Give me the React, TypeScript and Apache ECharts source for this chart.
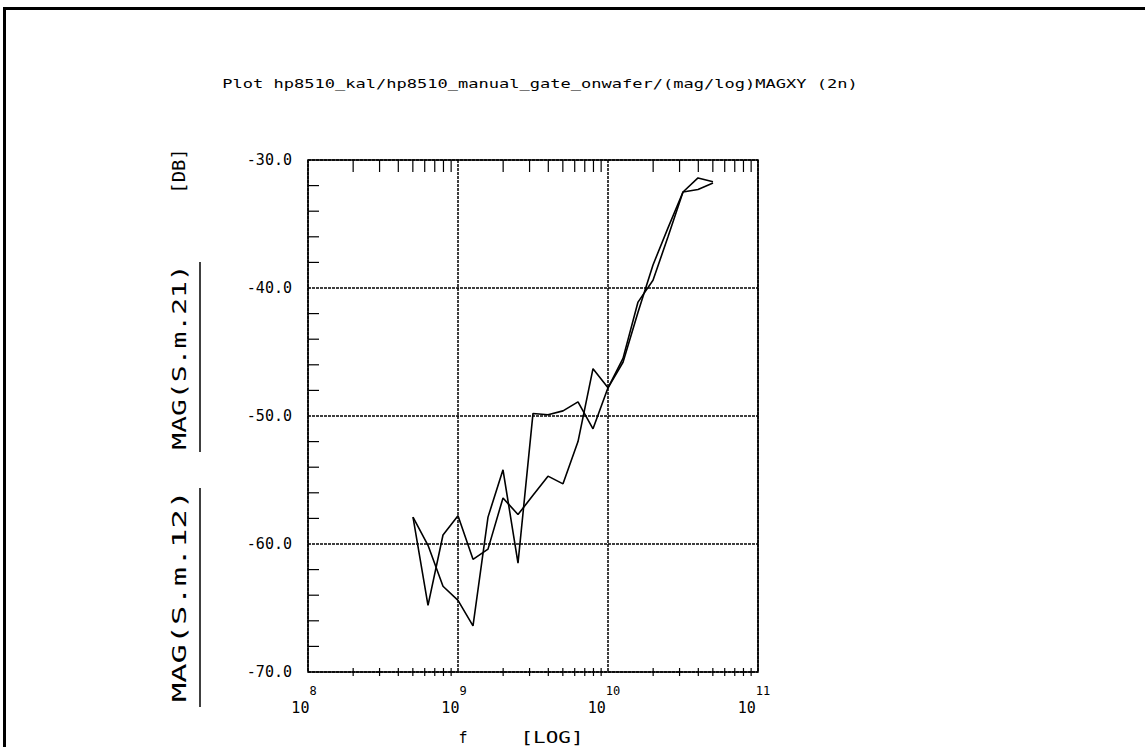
import React, { useEffect, useRef } from "react";
import * as echarts from "echarts";

// log10 of the swept frequencies (Hz)
const freqExp = [8.7, 8.8, 8.9, 9.0, 9.1, 9.2, 9.3, 9.4, 9.5, 9.6, 9.7, 9.8, 9.9, 10.0, 10.1, 10.2, 10.3, 10.4, 10.5, 10.6, 10.7];
const magS21 = [-57.9, -64.8, -59.3, -57.8, -61.2, -60.4, -56.4, -57.7, -56.2, -54.7, -55.3, -52.0, -46.3, -47.8, -45.5, -41.1, -39.4, -36.0, -32.5, -32.3, -31.8];
const magS12 = [-57.9, -60.1, -63.3, -64.4, -66.4, -57.9, -54.2, -61.5, -49.8, -49.9, -49.6, -48.9, -51.0, -47.8, -45.8, -41.9, -38.2, -35.3, -32.5, -31.4, -31.7];

const yMin = -70;
const yMax = -30;
const yStep = 10;
const yMinorStep = 2;
const decades = [8, 9, 10];
const minorMultipliers = [2, 3, 4, 5, 6, 7, 8, 9];

const titleText = "Plot hp8510_kal/hp8510_manual_gate_onwafer/(mag/log)MAGXY (2n)";
const FONT = "'DejaVu Sans Mono', monospace";

export default function App() {
  const ref = useRef<HTMLDivElement>(null);
  useEffect(() => {
    if (!ref.current) return;
    const chart = echarts.init(ref.current, null, { renderer: "svg" });

    const minorFreqs: number[] = [];
    decades.forEach((d) => minorMultipliers.forEach((m) => minorFreqs.push(m * Math.pow(10, d))));
    const leftMinor: number[] = [];
    for (let v = yMin + yMinorStep; v < yMax; v += yMinorStep) {
      if (v % yStep !== 0) leftMinor.push(v);
    }

    const toPts = (arr: number[]) => freqExp.map((e, i) => [Math.pow(10, e), arr[i]]);

    const tickSeries = (data: number[][], kind: "top" | "bottom" | "left") => ({
      type: "custom",
      silent: true,
      clip: false,
      z: 5,
      data,
      encode: { x: 0, y: 1 },
      renderItem: (params: any, api: any) => {
        const p = api.coord([api.value(0), api.value(1)]);
        let shape;
        if (kind === "top") shape = { x1: p[0], y1: p[1], x2: p[0], y2: p[1] + 12 };
        else if (kind === "bottom") shape = { x1: p[0], y1: p[1] - 4, x2: p[0], y2: p[1] + 4 };
        else shape = { x1: p[0], y1: p[1], x2: p[0] + 11, y2: p[1] };
        return { type: "line", shape, style: { stroke: "#000", lineWidth: 1.2 } };
      },
    });

    const lineStyle = { color: "#000", width: 1.6 };
    const gridLine = { color: "#000", width: 1.5, type: [3, 1] };

    chart.setOption({
      animation: false,
      backgroundColor: "#fff",
      grid: { left: 308, top: 160, width: 450, height: 512, show: true, borderColor: "#000", borderWidth: 1.6, backgroundColor: "transparent" },
      xAxis: {
        type: "log",
        logBase: 10,
        min: 1e8,
        max: 1e11,
        axisLine: { show: false },
        axisTick: { show: false },
        splitLine: { show: true, lineStyle: gridLine },
        axisLabel: {
          margin: 13,
          formatter: (v: number) => `{a|10}{b|${Math.round(Math.log10(v))}}`,
          rich: {
            a: { fontFamily: FONT, fontSize: 15, color: "#000", verticalAlign: "bottom" },
            b: { fontFamily: FONT, fontSize: 12, color: "#000", verticalAlign: "bottom", padding: [0, 8, 18, 0] },
          },
        },
      },
      yAxis: {
        type: "value",
        min: yMin,
        max: yMax,
        interval: yStep,
        axisLine: { show: false },
        axisTick: { show: false },
        splitLine: { show: true, lineStyle: gridLine },
        axisLabel: {
          margin: 16,
          fontFamily: FONT,
          fontSize: 15,
          color: "#000",
          formatter: (v: number) => v.toFixed(1),
        },
      },
      series: [
        { name: "MAG(S.m.21)", type: "line", data: toPts(magS21), showSymbol: false, symbol: "none", lineStyle, z: 10 },
        { name: "MAG(S.m.12)", type: "line", data: toPts(magS12), showSymbol: false, symbol: "none", lineStyle, z: 10 },
        tickSeries(minorFreqs.map((f) => [f, yMax]), "top"),
        tickSeries(minorFreqs.map((f) => [f, yMin]), "bottom"),
        tickSeries(leftMinor.map((v) => [1e8, v]), "left"),
      ],
      graphic: [
        { type: "rect", shape: { x: 3, y: 7, width: 1142, height: 3 }, style: { fill: "#000" } },
        { type: "rect", shape: { x: 3, y: 7, width: 3, height: 740 }, style: { fill: "#000" } },
        {
          type: "text", x: 540, y: 84, scaleX: 1.42,
          style: { text: titleText, font: `12px ${FONT}`, fill: "#000", align: "center", verticalAlign: "middle" },
        },
        {
          type: "text", x: 179, y: 171, rotation: Math.PI / 2, scaleX: 1.05,
          style: { text: "[DB]", font: `18px ${FONT}`, fill: "#000", align: "center", verticalAlign: "middle" },
        },
        {
          type: "text", x: 179, y: 357, rotation: Math.PI / 2, scaleX: 1.4,
          style: { text: "MAG(S.m.21)", font: `20px ${FONT}`, fill: "#000", align: "center", verticalAlign: "middle" },
        },
        {
          type: "text", x: 179, y: 596, rotation: Math.PI / 2, scaleX: 1.6,
          style: { text: "MAG(S.m.12)", font: `20px ${FONT}`, fill: "#000", align: "center", verticalAlign: "middle" },
        },
        { type: "line", shape: { x1: 200, y1: 262, x2: 200, y2: 452 }, style: { stroke: "#000", lineWidth: 1.5 } },
        { type: "line", shape: { x1: 200, y1: 488, x2: 200, y2: 707 }, style: { stroke: "#000", lineWidth: 1.5 } },
        {
          type: "text", x: 463, y: 738,
          style: { text: "f", font: `15px ${FONT}`, fill: "#000", align: "center", verticalAlign: "middle" },
        },
        {
          type: "text", x: 552, y: 738, scaleX: 1.4,
          style: { text: "[LOG]", font: `15px ${FONT}`, fill: "#000", align: "center", verticalAlign: "middle" },
        },
      ],
    });
    return () => chart.dispose();
  }, []);
  return (
    <div
      ref={ref}
      style={{ position: "fixed", left: 0, top: 0, width: 1145, height: 747, background: "#fff" }}
    />
  );
}
